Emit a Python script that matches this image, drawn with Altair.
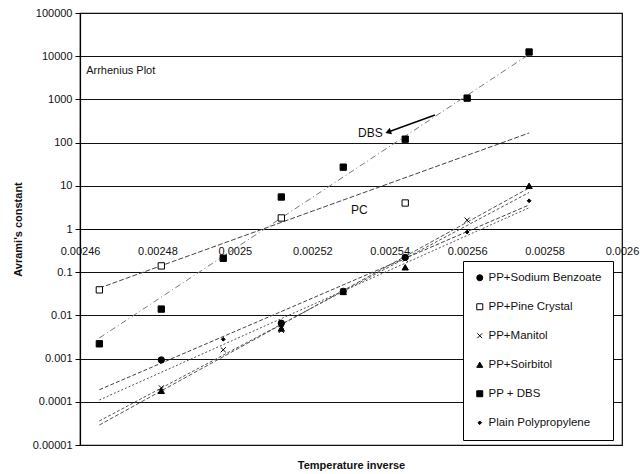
import altair as alt
import pandas as pd

FONT = "Liberation Sans"

series_names = ["PP+Sodium Benzoate", "PP+Pine Crystal", "PP+Manitol",
                "PP+Soirbitol", "PP + DBS", "Plain Polypropylene"]

# measured points (x = 1/T, y = Avrami's constant)
x_sb = [0.002481, 0.002512, 0.002528, 0.002544]
y_sb = [0.00093, 0.0066, 0.036, 0.22]
x_pc = [0.002465, 0.002481, 0.002512, 0.002544]
y_pc = [0.039, 0.14, 1.8, 4.0]
x_man = [0.002481, 0.002497, 0.002512, 0.002528, 0.002544, 0.00256]
y_man = [0.00021, 0.0016, 0.0045, 0.037, 0.2, 1.6]
x_sor = [0.002481, 0.002512, 0.002528, 0.002544, 0.002576]
y_sor = [0.00018, 0.005, 0.035, 0.13, 10]
x_dbs = [0.002465, 0.002481, 0.002497, 0.002512, 0.002528, 0.002544, 0.00256, 0.002576]
y_dbs = [0.0022, 0.014, 0.21, 5.5, 27, 120, 1070, 12500]
x_pp = [0.002497, 0.002512, 0.002528, 0.002544, 0.00256, 0.002576]
y_pp = [0.0028, 0.0055, 0.034, 0.21, 0.85, 4.5]

# exponential trend lines, read at both ends
trend_x = [0.002465, 0.002576]
trend_start = [0.00019, 0.043, 0.000036, 0.000029, 0.003, 0.00011]
trend_end = [3.6, 167, 7, 8.9, 11000, 3.1]

# annotations
ann_labels = ["Arrhenius Plot", "DBS", "PC"]
ann_x = [0.0024616, 0.0025318, 0.0025300]
ann_y = [4500, 167, 2.75]
ann_size = [11, 12, 12]
arrow_x = [0.0025517, 0.0025396]
arrow_y = [435, 176]

x_ticks = [0.00246, 0.00248, 0.0025, 0.00252, 0.00254, 0.00256, 0.00258, 0.0026]
y_ticks = [0.00001, 0.0001, 0.001, 0.01, 0.1, 1, 10, 100, 1000, 10000, 100000]

shapes = ["circle", "square", "M-0.8,-0.8L0.8,0.8M-0.8,0.8L0.8,-0.8",
          "triangle-up", "square", "M0,-0.6L0.6,0L0,0.6L-0.6,0Z"]
fills = ["black", "white", "black", "black", "black", "black"]
strokes = ["black"] * 6
line_colors = ["#444", "#444", "#555", "#555", "#777", "#555"]
line_dash = [[4, 2], [5, 2], [3, 2], [4, 2], [6, 3, 1, 3], [2, 2]]

# build tables
rows = []
for name, xs, ys in zip(series_names,
                        [x_sb, x_pc, x_man, x_sor, x_dbs, x_pp],
                        [y_sb, y_pc, y_man, y_sor, y_dbs, y_pp]):
    for a, b in zip(xs, ys):
        rows.append({"series": name, "x": a, "y": b})
pts = pd.DataFrame(rows)

trend_names = [n + " (trend)" for n in series_names]
trows = []
for name, s, e in zip(trend_names, trend_start, trend_end):
    trows.append({"line": name, "x": trend_x[0], "y": s})
    trows.append({"line": name, "x": trend_x[1], "y": e})
trend = pd.DataFrame(trows)

ann = pd.DataFrame({"label": ann_labels, "x": ann_x, "y": ann_y, "fs": ann_size})
arrow = pd.DataFrame({"x": arrow_x, "y": arrow_y, "o": [0, 1]})
head = arrow.iloc[[1]]

xscale = alt.Scale(domain=[0.00246, 0.0026], nice=False, zero=False)
yscale = alt.Scale(type="log", domain=[0.00001, 100000], nice=False)

xaxis = alt.Axis(values=x_ticks, format="~f", grid=False, offset=-216,
                 ticks=False, domainColor="black", domainWidth=1.2,
                 labelFont=FONT, labelFontSize=11, labelColor="#111",
                 labelPadding=16, labelFlush=False, labelOverlap=False,
                 title="Temperature inverse", titleFont=FONT, titleFontSize=11,
                 titleFontWeight="bold", titleColor="#111",
                 titleX=271, titleY=236, titleBaseline="middle", titleAlign="center")
yaxis = alt.Axis(values=y_ticks, format="~f", grid=True, gridColor="#111",
                 gridWidth=1.2, domainColor="black", domainWidth=1.2,
                 tickColor="black", tickSize=5, labelFont=FONT, labelFontSize=11,
                 labelColor="#111", labelPadding=3, labelOverlap=False,
                 title="Avrami's constant", titleFont=FONT, titleFontSize=11,
                 titleFontWeight="bold", titleColor="#111", titleX=-62, titleY=216,
                 titleAngle=270, titleBaseline="middle", titleAlign="center")

X = alt.X("x:Q", scale=xscale, axis=xaxis)
Y = alt.Y("y:Q", scale=yscale, axis=yaxis)

lines = alt.Chart(trend).mark_line(strokeWidth=1).encode(
    x=X, y=Y,
    color=alt.Color("line:N", scale=alt.Scale(domain=trend_names, range=line_colors), legend=None),
    strokeDash=alt.StrokeDash("line:N", scale=alt.Scale(domain=trend_names, range=line_dash), legend=None),
    detail="line:N",
)

legend = alt.Legend(title=None, orient="none", legendX=383, legendY=248,
                    fillColor="white", strokeColor="black", padding=11,
                    rowPadding=16, labelFont=FONT, labelFontSize=11.5,
                    labelColor="#111", labelOffset=3, symbolSize=36,
                    symbolStrokeWidth=1, zindex=1)

points = alt.Chart(pts).mark_point(strokeWidth=1, opacity=1, size=40).encode(
    x=X, y=Y,
    shape=alt.Shape("series:N", scale=alt.Scale(domain=series_names, range=shapes), legend=legend),
    fill=alt.Fill("series:N", scale=alt.Scale(domain=series_names, range=fills), legend=legend),
    stroke=alt.Stroke("series:N", scale=alt.Scale(domain=series_names, range=strokes), legend=legend),
)

arrow_line = alt.Chart(arrow).mark_line(color="black", strokeWidth=1.5).encode(
    x=X, y=Y, order="o:Q")
arrow_head = alt.Chart(head).mark_point(shape="triangle-up", filled=True, color="black",
                                        opacity=1, size=45, angle=250).encode(x=X, y=Y)

texts = alt.Chart(ann).mark_text(align="left", baseline="middle", font=FONT, color="#111").encode(
    x=X, y=Y, text="label:N", size=alt.Size("fs:Q", scale=None))

chart = alt.layer(lines, points, arrow_line, arrow_head, texts).properties(
    width=542, height=432,
    autosize=alt.AutoSizeParams(type="none"),
    padding={"left": 80, "top": 13, "right": 18, "bottom": 29},
).configure_view(stroke="black", strokeWidth=1.2)

chart.save("out.html", embed_options={"renderer": "svg", "actions": False})
